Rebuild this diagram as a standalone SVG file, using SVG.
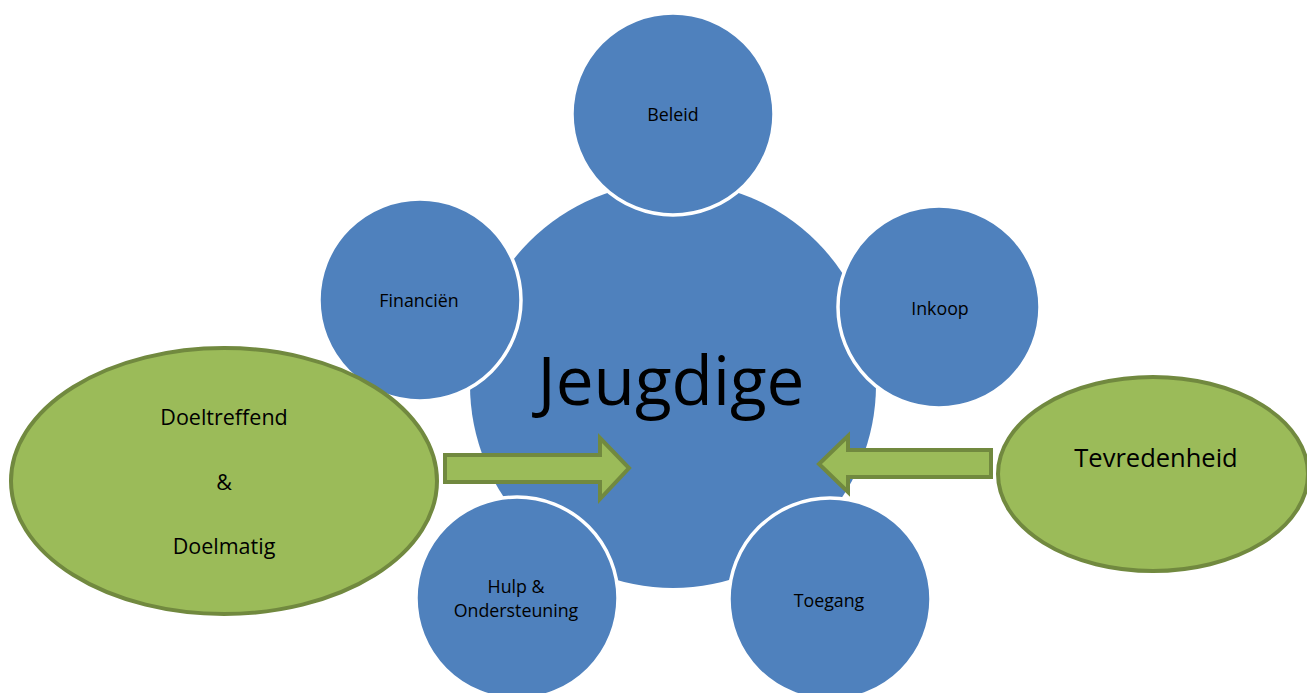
<svg xmlns="http://www.w3.org/2000/svg" width="1307" height="693" viewBox="0 0 1307 693">
<style>
.core{fill:#4f81bd}
.sat{fill:#4f81bd;stroke:#ffffff;stroke-width:3.5}
.goal{fill:#9bbb59;stroke:#71893f;stroke-width:4}
.arr{fill:#9bbb59;stroke:#71893f;stroke-width:4;stroke-linejoin:miter}
text{font-family:"Open Sans","Liberation Sans",sans-serif;fill:#000;text-anchor:middle}
.s{font-size:17.8px}
.m{font-size:21.5px}
</style>
<rect width="1307" height="693" fill="#ffffff"/>
<g id="jeugdige">
<circle class="core" cx="673" cy="385" r="203"/>
<text x="671" y="405" font-size="67.5">Jeugdige</text>
</g>
<g id="beleid">
<circle class="sat" cx="673" cy="114" r="101"/>
<text class="s" x="673" y="121">Beleid</text>
</g>
<g id="financien">
<circle class="sat" cx="420" cy="300" r="101"/>
<text class="s" x="419" y="307">Financiën</text>
</g>
<g id="inkoop">
<circle class="sat" cx="939" cy="307" r="101"/>
<text class="s" x="940" y="315">Inkoop</text>
</g>
<g id="hulp">
<circle class="sat" cx="517" cy="598" r="101"/>
<text class="s" x="516" y="593">Hulp &amp;</text>
<text class="s" x="516" y="617">Ondersteuning</text>
</g>
<g id="toegang">
<circle class="sat" cx="830" cy="599" r="101"/>
<text class="s" x="829" y="607">Toegang</text>
</g>
<g id="doeltreffend">
<ellipse class="goal" cx="224" cy="481" rx="213" ry="133"/>
<text class="m" x="224" y="425">Doeltreffend</text>
<text class="m" x="224" y="490">&amp;</text>
<text class="m" x="224" y="554">Doelmatig</text>
</g>
<g id="tevredenheid">
<ellipse class="goal" cx="1153" cy="474" rx="155" ry="97"/>
<text x="1156" y="467" font-size="25.5">Tevredenheid</text>
</g>
<g id="connectors">
<polygon class="arr" points="445,455 600,455 600,438 629,468 600,499 600,482 445,482"/>
<polygon class="arr" points="991,450 848,450 848,436 819,464 848,492 848,477 991,477"/>
</g>
</svg>
